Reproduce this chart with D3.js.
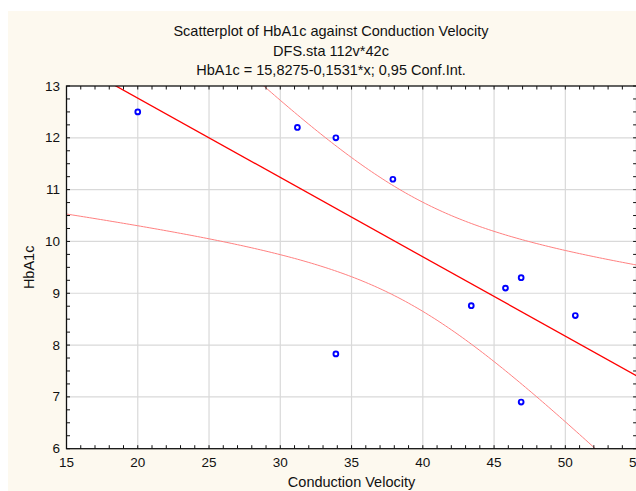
<!DOCTYPE html>
<html>
<head>
<meta charset="utf-8">
<script src="https://cdn.jsdelivr.net/npm/d3@7"></script>
<style>
  html, body { margin: 0; padding: 0; background: #ffffff; }
  svg { display: block; font-family: "Liberation Sans", Arial, sans-serif; }
</style>
</head>
<body>
<svg id="chart" width="636" height="491"></svg>
<script>
// Observations: conduction velocity vs HbA1c
const velocity = [20, 31.2, 33.9, 37.9, 43.4, 45.8, 46.9, 50.7, 46.9, 33.9];
const hba1c    = [12.5, 12.2, 12.0, 11.2, 8.76, 9.1, 9.3, 8.57, 6.9, 7.83];

// Fitted line as reported: HbA1c = 15,8275 - 0,1531*x
const intercept = 15.8275;
const slope = -0.1531;
const tCrit = 2.306; // two-sided 95 %, df = n - 2 = 8

const xTickValues = [15, 20, 25, 30, 35, 40, 45, 50, 55];
const yTickValues = [6, 7, 8, 9, 10, 11, 12, 13];

const titleLines = [
  "Scatterplot of HbA1c against Conduction Velocity",
  "DFS.sta 112v*42c",
  "HbA1c = 15,8275-0,1531*x; 0,95 Conf.Int."
];

const svg = d3.select("#chart");
const W = 636, H = 491;
const plot = { left: 66.5, right: 636.6, top: 86, bottom: 448.7 };

// panel background
svg.append("rect").attr("x", 8).attr("y", 11).attr("width", W - 8).attr("height", H - 11)
  .attr("fill", "#fdf9ef");

const x = d3.scaleLinear().domain([15, 55]).range([plot.left, plot.right]);
const y = d3.scaleLinear().domain([6, 13]).range([plot.bottom, plot.top]);

svg.append("rect")
  .attr("x", plot.left).attr("y", plot.top)
  .attr("width", plot.right - plot.left).attr("height", plot.bottom - plot.top)
  .attr("fill", "#ffffff");

// grid
const grid = svg.append("g").attr("stroke", "#d9d9d9").attr("stroke-width", 1.2);
grid.selectAll("line.gx").data(xTickValues.slice(1, -1)).join("line")
  .attr("x1", d => x(d)).attr("x2", d => x(d))
  .attr("y1", plot.top).attr("y2", plot.bottom);
grid.selectAll("line.gy").data(yTickValues.slice(1, -1)).join("line")
  .attr("x1", plot.left).attr("x2", plot.right)
  .attr("y1", d => y(d)).attr("y2", d => y(d));

// clip for the fitted curves
svg.append("clipPath").attr("id", "plotClip").append("rect")
  .attr("x", plot.left).attr("y", plot.top)
  .attr("width", plot.right - plot.left).attr("height", plot.bottom - plot.top);

// regression statistics for the confidence band
const n = velocity.length;
const meanX = d3.mean(velocity);
const sxx = d3.sum(velocity, v => (v - meanX) ** 2);
const sse = d3.sum(velocity, (v, i) => (hba1c[i] - (intercept + slope * v)) ** 2);
const se = Math.sqrt(sse / (n - 2));
const fit = v => intercept + slope * v;
const halfWidth = v => tCrit * se * Math.sqrt(1 / n + (v - meanX) ** 2 / sxx);

const samples = d3.range(15, 55.001, 0.2);
const line = d3.line().x(d => x(d[0])).y(d => y(d[1]));

const curves = svg.append("g").attr("clip-path", "url(#plotClip)").attr("fill", "none");
curves.append("path")
  .attr("d", line(samples.map(v => [v, fit(v) + halfWidth(v)])))
  .attr("stroke", "#ff8080").attr("stroke-width", 1);
curves.append("path")
  .attr("d", line(samples.map(v => [v, fit(v) - halfWidth(v)])))
  .attr("stroke", "#ff8080").attr("stroke-width", 1);
curves.append("path")
  .attr("d", line([[15, fit(15)], [55, fit(55)]]))
  .attr("stroke", "#ff0000").attr("stroke-width", 1.3);

// points
svg.append("g").selectAll("circle").data(velocity).join("circle")
  .attr("cx", d => x(d)).attr("cy", (d, i) => y(hba1c[i]))
  .attr("r", 2.4).attr("fill", "#ffffff")
  .attr("stroke", "#0000ff").attr("stroke-width", 1.9);

// frame
svg.append("rect")
  .attr("x", plot.left).attr("y", plot.top)
  .attr("width", plot.right - plot.left).attr("height", plot.bottom - plot.top)
  .attr("fill", "none").attr("stroke", "#111").attr("stroke-width", 1.3);

// inward ticks on all four sides
const xMinor = d3.range(15, 55.001, 1);
const yMinor = d3.range(6, 13.001, 0.25);
const tickLen = 3.5;
const ticks = svg.append("g").attr("stroke", "#111").attr("stroke-width", 1);
ticks.selectAll("line.xb").data(xMinor).join("line")
  .attr("x1", d => x(d)).attr("x2", d => x(d))
  .attr("y1", plot.bottom).attr("y2", plot.bottom - tickLen);
ticks.selectAll("line.xt").data(xMinor).join("line")
  .attr("x1", d => x(d)).attr("x2", d => x(d))
  .attr("y1", plot.top).attr("y2", plot.top + tickLen);
ticks.selectAll("line.yl").data(yMinor).join("line")
  .attr("x1", plot.left).attr("x2", plot.left + tickLen)
  .attr("y1", d => y(d)).attr("y2", d => y(d));
ticks.selectAll("line.yr").data(yMinor).join("line")
  .attr("x1", plot.right).attr("x2", plot.right - tickLen)
  .attr("y1", d => y(d)).attr("y2", d => y(d));

// tick labels
svg.append("g").selectAll("text").data(xTickValues).join("text")
  .attr("x", d => x(d)).attr("y", 462)
  .attr("text-anchor", "middle").attr("dominant-baseline", "central")
  .attr("font-size", 13.5).attr("fill", "#111")
  .text(d => d);
svg.append("g").selectAll("text").data(yTickValues).join("text")
  .attr("x", 60).attr("y", d => y(d))
  .attr("text-anchor", "end").attr("dominant-baseline", "central")
  .attr("font-size", 13.5).attr("fill", "#111")
  .text(d => d);

// axis titles
svg.append("text")
  .attr("x", (plot.left + plot.right) / 2).attr("y", 482)
  .attr("text-anchor", "middle").attr("dominant-baseline", "central")
  .attr("font-size", 14.5).attr("fill", "#111")
  .text("Conduction Velocity");
svg.append("text")
  .attr("transform", `translate(29,${(plot.top + plot.bottom) / 2}) rotate(-90)`)
  .attr("text-anchor", "middle").attr("dominant-baseline", "central")
  .attr("font-size", 14.5).attr("fill", "#111")
  .text("HbA1c");

// title block
svg.append("g").selectAll("text").data(titleLines).join("text")
  .attr("x", 331).attr("y", (d, i) => 31 + i * 19.5)
  .attr("text-anchor", "middle").attr("dominant-baseline", "central")
  .attr("font-size", 14.5).attr("fill", "#111")
  .text(d => d);
</script>
</body>
</html>
